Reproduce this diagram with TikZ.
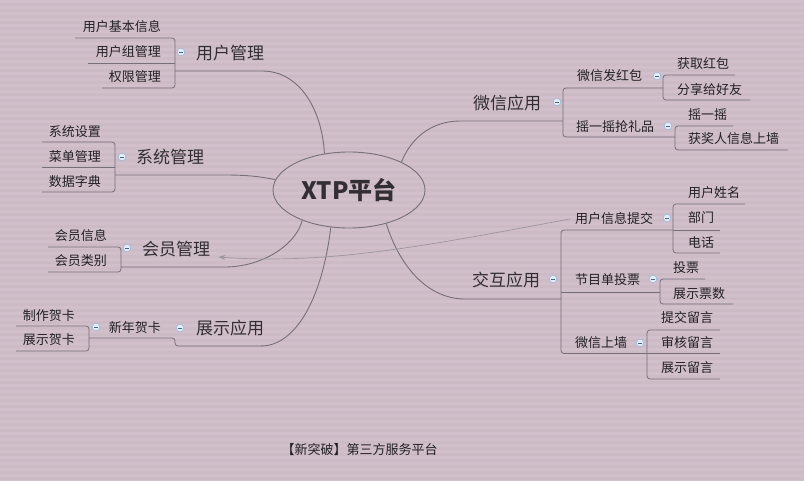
\documentclass[tikz,border=0pt]{standalone}
\usepackage{fontspec}
\setmainfont{Noto Sans CJK SC}
\usetikzlibrary{arrows.meta,shapes.geometric}
\definecolor{bgc}{RGB}{204,186,197}
\definecolor{stripec}{RGB}{209,192,203}
\definecolor{linec}{RGB}{118,112,120}
\definecolor{txtc}{RGB}{35,32,36}
\definecolor{maintxt}{RGB}{50,46,50}
\definecolor{arrowc}{RGB}{158,150,158}
\definecolor{iconfill}{RGB}{228,238,250}
\definecolor{icondraw}{RGB}{150,182,220}
\definecolor{iconmark}{RGB}{70,100,145}
\tikzset{
  sub/.style={inner sep=0pt, font=\fontsize{13}{13}\selectfont, text=txtc},
  topic/.style={inner sep=0pt, font=\fontsize{17}{17}\selectfont, text=maintxt},
  conn/.style={draw=linec, line width=0.8pt, rounded corners=3pt},
  branch/.style={draw=linec, line width=0.9pt},
  minus/.pic={
    \fill[iconfill, draw=icondraw, line width=0.6pt] (0,0) circle (3.8pt);
    \draw[iconmark, line width=0.8pt] (-2,0) -- (2,0);
  }
}
\begin{document}
\begin{tikzpicture}[x=1pt,y=-1pt]
\useasboundingbox (0,0) rectangle (804,481);
\fill[bgc] (0,0) rectangle (804,481);
\foreach \k in {0,...,80} { \fill[stripec] (0,\k*6) rectangle (804,\k*6+3); }

% centre
\node[ellipse, draw=linec, line width=0.9pt, minimum width=152pt, minimum height=76pt,
      inner sep=0pt, font=\fontsize{24}{24}\selectfont\bfseries, text=maintxt]
      (xtp) at (349,190) {XTP平台};

% ---------- 用户管理 ----------
\node[sub, anchor=east] (a1) at (161,27) {用户基本信息};
\node[sub, anchor=east] (a2) at (161,52) {用户组管理};
\node[sub, anchor=east] (a3) at (161,77) {权限管理};
\node[topic, anchor=west] (A) at (196,53) {用户管理};
\path[conn] (75,38) -- (175,38) -- (175,88) -- (102,88);
\path[conn] (88,63) -- (175,63);
\draw[branch] (175,71) -- (262,71) .. controls (300,71) and (322,110) .. (xtp.124);
\pic at (181,52) {minus};

% ---------- 系统管理 ----------
\node[sub, anchor=east] (b1) at (101,132) {系统设置};
\node[sub, anchor=east] (b2) at (101,157) {菜单管理};
\node[sub, anchor=east] (b3) at (101,182) {数据字典};
\node[topic, anchor=west] (B) at (136,157) {系统管理};
\path[conn] (42,142) -- (115,142) -- (115,192) -- (42,192);
\path[conn] (42,167) -- (115,167);
\draw[branch] (115,175) -- (225,175) .. controls (250,175) and (262,177) .. (xtp.172);
\pic at (122,157) {minus};

% ---------- 会员管理 ----------
\node[sub, anchor=east] (c1) at (107,236) {会员信息};
\node[sub, anchor=east] (c2) at (107,261) {会员类别};
\node[topic, anchor=west] (C) at (142,249) {会员管理};
\path[conn] (48,247) -- (121,247) -- (121,272) -- (48,272);
\draw[branch] (121,267) -- (225,267) .. controls (262,267) and (296,245) .. (xtp.213);
\pic at (127,248) {minus};

% ---------- 展示应用 ----------
\node[sub, anchor=east] (d11) at (75,316) {制作贺卡};
\node[sub, anchor=east] (d12) at (75,340) {展示贺卡};
\node[sub, anchor=east] (d1) at (161,328) {新年贺卡};
\node[topic, anchor=west] (D) at (196,328) {展示应用};
\path[conn] (16,326) -- (89,326) -- (89,351) -- (16,351);
\path[conn] (89,338) -- (175,338) -- (175,346) -- (262,346);
\draw[branch] (261,346) .. controls (295,346) and (322,300) .. (xtp.244);
\pic at (96,327) {minus};
\pic at (180,328) {minus};

% ---------- 微信应用 ----------
\node[topic, anchor=west] (E) at (473,103) {微信应用};
\node[sub, anchor=west] (e1) at (577,76) {微信发红包};
\node[sub, anchor=west] (e11) at (677,64) {获取红包};
\node[sub, anchor=west] (e12) at (677,90) {分享给好友};
\node[sub, anchor=west] (e2) at (576,127) {摇一摇抢礼品};
\node[sub, anchor=west] (e21) at (688,115) {摇一摇};
\node[sub, anchor=west] (e22) at (688,139) {获奖人信息上墙};
\path[conn] (663,88) -- (563,88) -- (563,137) -- (675,137);
\path[conn] (735,75) -- (663,75) -- (663,100) -- (750,100);
\path[conn] (733,126) -- (675,126) -- (675,150) -- (788,150);
\draw[branch] (563,121) -- (460,121) .. controls (430,121) and (410,140) .. (xtp.28);
\pic at (557,102) {minus};
\pic at (657,76) {minus};
\pic at (668,126) {minus};

% ---------- 交互应用 ----------
\node[topic, anchor=west] (F) at (472,280) {交互应用};
\node[sub, anchor=west] (f1) at (575,219) {用户信息提交};
\node[sub, anchor=west] (f11) at (688,193) {用户姓名};
\node[sub, anchor=west] (f12) at (688,218) {部门};
\node[sub, anchor=west] (f13) at (688,243) {电话};
\node[sub, anchor=west] (f2) at (575,280) {节目单投票};
\node[sub, anchor=west] (f21) at (673,268) {投票};
\node[sub, anchor=west] (f22) at (673,294) {展示票数};
\node[sub, anchor=west] (f3) at (575,343) {微信上墙};
\node[sub, anchor=west] (f31) at (661,318) {提交留言};
\node[sub, anchor=west] (f32) at (661,343) {审核留言};
\node[sub, anchor=west] (f33) at (661,368) {展示留言};
\path[conn] (673,230) -- (561,230) -- (561,353.5) -- (647,353.5);
\path[conn] (561,292) -- (660,292);
\path[conn] (745,204) -- (673,204) -- (673,253) -- (720,253);
\path[conn] (673,230) -- (720,230);
\path[conn] (705,279) -- (660,279) -- (660,304) -- (733,304);
\path[conn] (720,330) -- (647,330) -- (647,379) -- (720,379);
\path[conn] (647,353.5) -- (720,353.5);
\draw[branch] (561,299) -- (465,299) .. controls (425,299) and (398,262) .. (xtp.318);
\pic at (553,279) {minus};
\pic at (667,218) {minus};
\pic at (653,279) {minus};
\pic at (640,343) {minus};

% relation arrow
\draw[arrowc, line width=0.7pt, -{Stealth[length=7pt,width=5pt]}]
  ([xshift=-5pt]f1.west) .. controls (430,245) and (330,265) .. ([xshift=8pt,yshift=-8pt]C.east);

% caption
\node[sub] (cap) at (359.5,450) {【新突破】第三方服务平台};
\end{tikzpicture}
\end{document}
